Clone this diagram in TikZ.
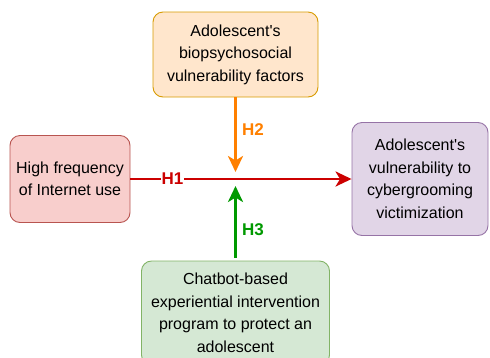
\documentclass[tikz,border=0pt]{standalone}
\usepackage{fontspec}
\setmainfont{Liberation Sans}
\usepackage{xcolor}
\usetikzlibrary{positioning,calc,arrows.meta}

\definecolor{redfill}{HTML}{F8CECC}
\definecolor{redline}{HTML}{B85450}
\definecolor{orangefill}{HTML}{FFE6CC}
\definecolor{orangeline}{HTML}{D79B00}
\definecolor{purplefill}{HTML}{E1D5E7}
\definecolor{purpleline}{HTML}{9673A6}
\definecolor{greenfill}{HTML}{D5E8D4}
\definecolor{greenline}{HTML}{82B366}
\definecolor{harrowred}{HTML}{CC0000}
\definecolor{harroworange}{HTML}{FF8000}
\definecolor{harrowgreen}{HTML}{009900}

\begin{document}
\begin{tikzpicture}[x=1pt, y=-1pt,
			varbox/.style={draw, rounded corners=10pt, line width=0.9pt, align=center, inner sep=0pt,
				font=\fontsize{16}{22.5}\selectfont},
			hyparrow/.style={line width=2.8pt, -{Stealth[length=16pt,width=15pt,inset=4.5pt]}},
			hyplabel/.style={font=\fontsize{17}{20}\selectfont\bfseries}]
			\useasboundingbox (0,0) rectangle (490,357);
			\node[varbox, fill=orangefill, draw=orangeline, minimum width=165pt, minimum height=85pt] (factors) at (235.5,54.5) {Adolescent\textquotesingle s\\biopsychosocial\\vulnerability factors};
			\node[varbox, fill=redfill, draw=redline, minimum width=120pt, minimum height=87pt] (internet) at (70,179) {High frequency\\of Internet use};
			\node[varbox, fill=purplefill, draw=purpleline, minimum width=136pt, minimum height=113pt] (victim) at (420,179) {Adolescent\textquotesingle s\\vulnerability to\\cybergrooming\\victimization};
			\node[varbox, fill=greenfill, draw=greenline, minimum width=188pt, minimum height=104pt] (chatbot) at (235.5,313) {Chatbot-based\\experiential intervention\\program to protect an\\adolescent};
			\coordinate (meetup) at (235.5,172);
			\coordinate (meetdown) at (235.5,186);
			% H1
			\draw[hyparrow, harrowred] (internet) -- node[pos=0.19, fill=white, inner sep=1pt, text=harrowred, hyplabel] (hone) {H1} (victim);
			% H2 and H3
			\draw[hyparrow, harroworange] (factors) -- (meetup);
			\draw[hyparrow, harrowgreen] ($(chatbot.north)+(0,-3)$) -- (meetdown);
			\node[hyplabel, text=harroworange] (htwo) at (253,130) {H2};
			\node[hyplabel, text=harrowgreen] (hthree) at (253,230) {H3};
		\end{tikzpicture}
\end{document}
